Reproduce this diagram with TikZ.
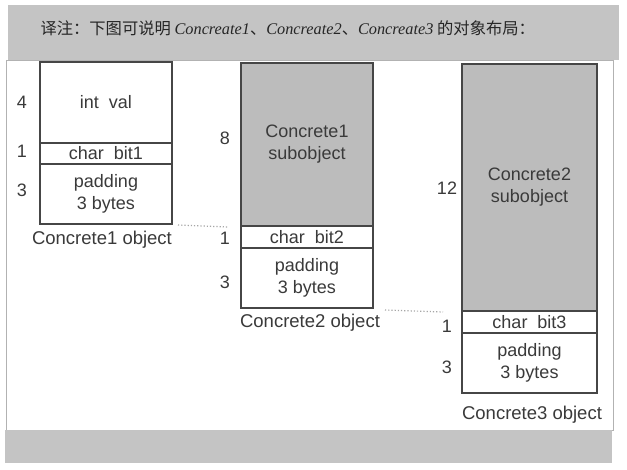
\documentclass[tikz,border=0pt]{standalone}
\usepackage{fontspec}
\setmainfont{Liberation Sans}
\newfontfamily\cjk{Noto Sans CJK SC}
\newfontfamily\tms{Liberation Serif}
\usetikzlibrary{positioning}

\definecolor{bandgray}{RGB}{196,196,196}
\definecolor{subgray}{RGB}{188,188,188}
\definecolor{inkgray}{RGB}{58,58,58}
\definecolor{linegray}{RGB}{70,70,70}

\tikzset{
  cell/.style={draw=linegray, line width=1.2pt, minimum width=132, inner sep=0pt,
    outer sep=0pt, align=center, text=inkgray, font=\fontsize{18}{22}\selectfont},
  subcell/.style={cell, fill=subgray},
  num/.style={text=inkgray, font=\fontsize{18}{20}\selectfont},
  caption/.style={text=inkgray, font=\fontsize{18.5}{20}\selectfont},
  dots/.style={dotted, draw=gray!70, line width=1.2pt}
}

\begin{document}
\begin{tikzpicture}[x=1pt, y=-1pt]
  \useasboundingbox (0,0) rectangle (627,470);
  % frame and grey bands
  \fill[bandgray] (8,5) rectangle (619,60);
  \draw[gray!60, fill=white] (6,60) rectangle (613,430);
  \fill[bandgray] (5,430) rectangle (612,463);
  \node[anchor=west, text=black!85, font=\fontsize{16.3}{18}\selectfont] (title) at (37,28)
    {\cjk 译注：下图可说明\ {\tms\itshape Concreate1}、{\tms\itshape Concreate2}、{\tms\itshape Concreate3}\ 的对象布局：};

  % Concrete1 object
  \node[cell, minimum height=81] (I1) at (106,102.5) {int\ \ val};
  \node[cell, minimum height=21, below=0pt of I1] (C1) {char\ \ bit1};
  \node[cell, minimum height=60, below=0pt of C1] (P1) {padding\\3 bytes};
  \node[num] at (22,102) {4};
  \node[num] at (22,151) {1};
  \node[num] at (22,190) {3};
  \node[caption] (N1) at (102,240) {Concrete1 object};

  % Concrete2 object
  \node[subcell, minimum height=163] (S2) at (307,144.5) {Concrete1\\subobject};
  \node[cell, minimum height=22, below=0pt of S2] (C2) {char\ \ bit2};
  \node[cell, minimum height=60, below=0pt of C2] (P2) {padding\\3 bytes};
  \node[num] at (225,138) {8};
  \node[num] at (225,238) {1};
  \node[num] at (225,282) {3};
  \node[caption] (N2) at (310,323) {Concrete2 object};

  % Concrete3 object
  \node[subcell, minimum width=135, minimum height=247] (S3) at (529.5,187.5) {Concrete2\\subobject};
  \node[cell, minimum width=135, minimum height=22, below=0pt of S3] (C3) {char\ \ bit3};
  \node[cell, minimum width=135, minimum height=60, below=0pt of C3] (P3) {padding\\3 bytes};
  \node[num] at (447,188) {12};
  \node[num] at (447,326) {1};
  \node[num] at (447,367) {3};
  \node[caption] (N3) at (532,415) {Concrete3 object};

  % dotted guides
  \draw[dots] ([xshift=6pt,yshift=-1pt]P1.south east) -- ([xshift=-13pt,yshift=-1pt]S2.south west);
  \draw[dots] ([xshift=12pt,yshift=-2pt]P2.south east) -- ([xshift=-19pt,yshift=-1pt]S3.south west);
\end{tikzpicture}
\end{document}
